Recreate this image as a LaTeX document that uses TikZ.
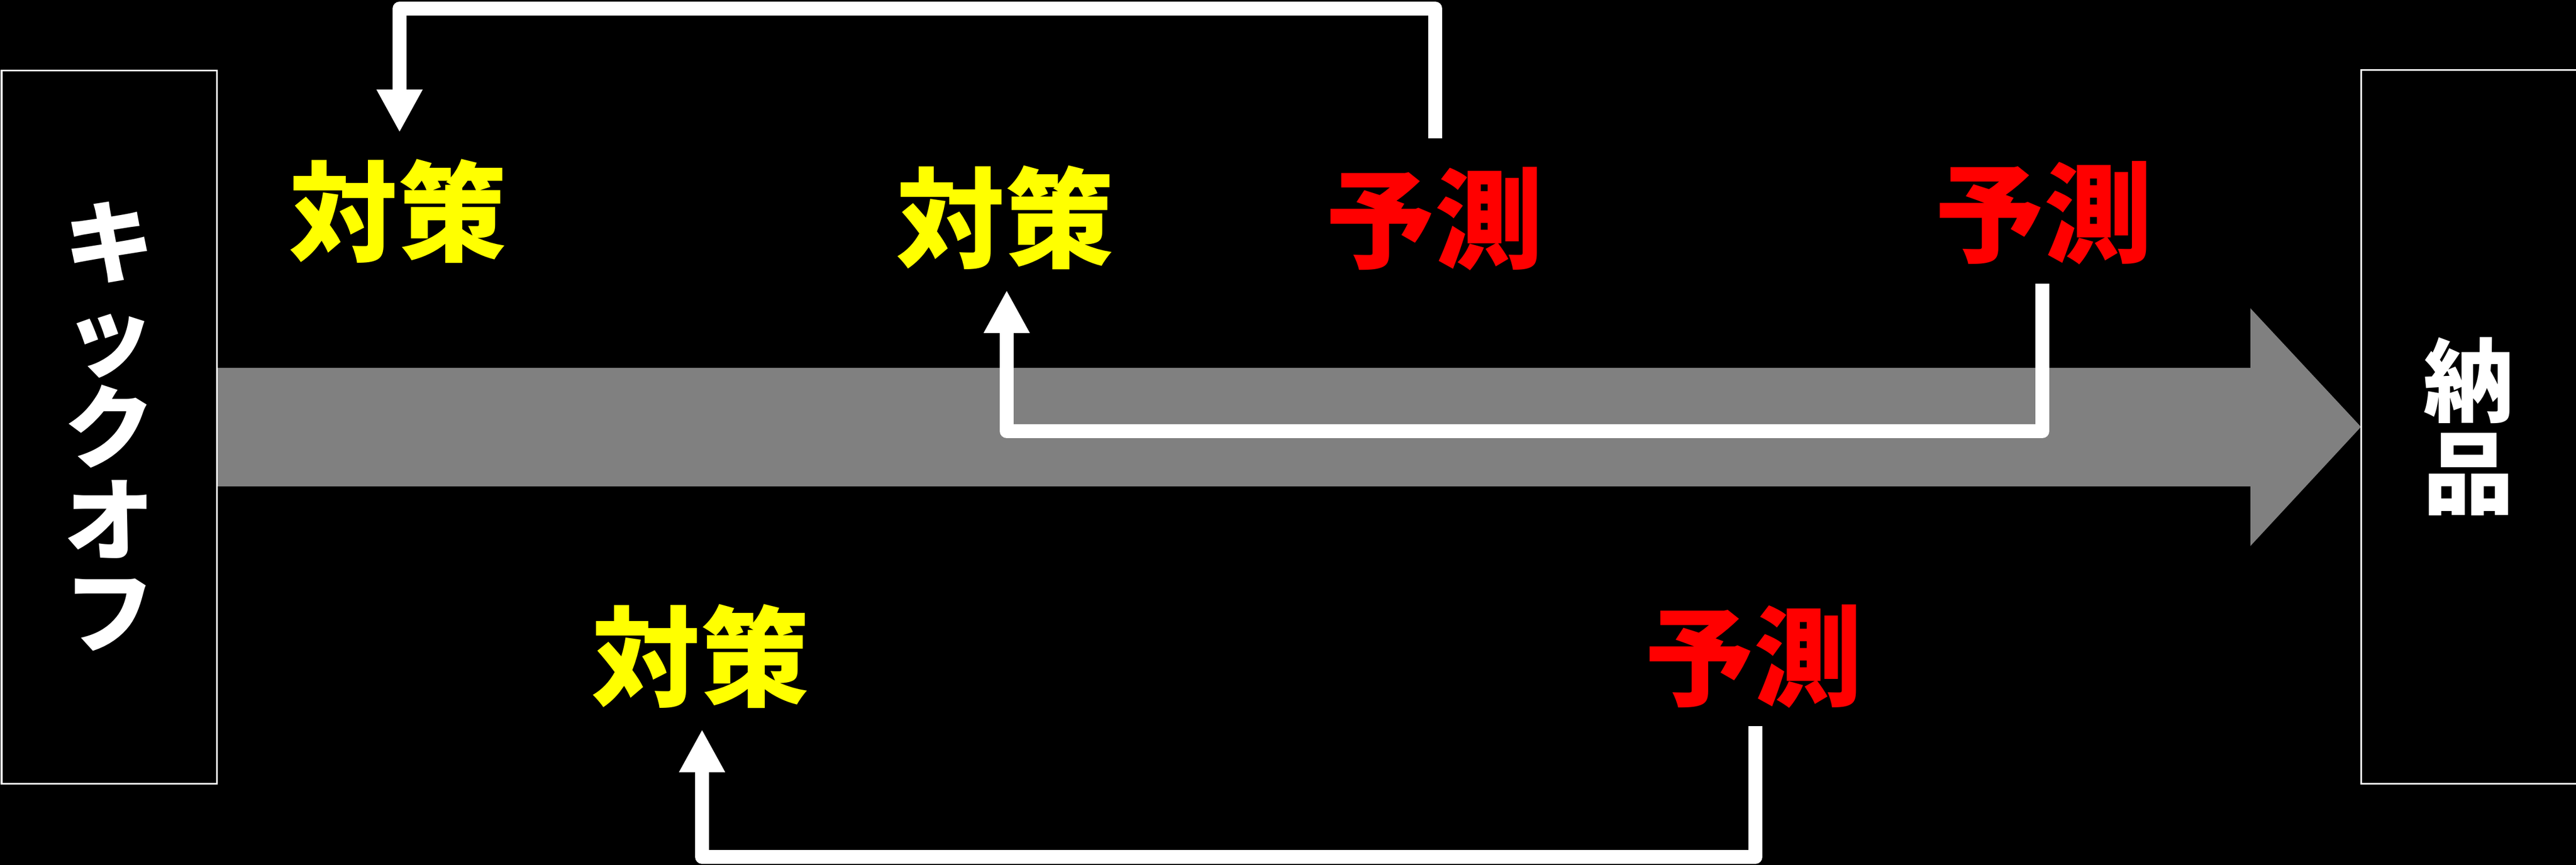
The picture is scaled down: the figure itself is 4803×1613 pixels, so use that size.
\documentclass[tikz,border=0pt]{standalone}
\usepackage{fontspec}
\newfontfamily\cjk{Noto Sans CJK JP}
\usetikzlibrary{arrows.meta}
\definecolor{flowgray}{HTML}{808080}
\definecolor{txtyellow}{HTML}{FFFF00}
\definecolor{txtred}{HTML}{FF0000}
\tikzset{
  bigword/.style={font=\cjk\bfseries\fontsize{57.5pt}{57.5pt}\selectfont, inner sep=0pt, anchor=base},
  taisaku/.style={bigword, text=txtyellow},
  yosoku/.style={bigword, text=txtred},
  endbox/.style={draw=white, line width=0.03cm, fill=black},
  endlabel/.style={font=\cjk\bfseries\fontsize{48pt}{49pt}\selectfont, text=white, align=center, inner sep=0pt},
  feedback/.style={draw=white, line width=0.26cm, line join=round,
    -{Triangle[length=0.8cm, width=0.8cm]}},
}
\begin{document}
\begin{tikzpicture}[x=0.01cm, y=-0.01cm]
\useasboundingbox[fill=black] (0,0) rectangle (4803,1613);
% main flow arrow
\fill[flowgray] (404,686) -- (4196,686) -- (4196,575) -- (4402,796) -- (4196,1018) -- (4196,907) -- (404,907) -- cycle;
% end boxes
\path[endbox] (3,132) rectangle (404,1461);
\path[endbox] (4402,131) rectangle (4815,1461);
\node[endlabel] (kickoff) at (204,795) {キ\\ッ\\ク\\オ\\フ};
\node[endlabel] (delivery) at (4603,795) {納\\品};
% words
\node[taisaku] (tA) at (742,472) {対策};
\node[taisaku] (tB) at (1874,484) {対策};
\node[yosoku]  (pA) at (2675,485) {予測};
\node[yosoku]  (pB) at (3811,474) {予測};
\node[taisaku] (tC) at (1306,1301) {対策};
\node[yosoku]  (pC) at (3270,1300) {予測};
% connector end points
\coordinate (pA-out) at (2676,258);
\coordinate (tA-in)  at (745,247);
\coordinate (laneA)  at (0,16);
\coordinate (pB-out) at (3808,529);
\coordinate (tB-in)  at (1877,541);
\coordinate (laneB)  at (0,804);
\coordinate (pC-out) at (3273,1354);
\coordinate (tC-in)  at (1309,1360);
\coordinate (laneC)  at (0,1598);
% feedback arrows
\draw[feedback] (pA-out) -- (pA-out |- laneA) -- (tA-in |- laneA) -- (tA-in);
\draw[feedback] (pB-out) -- (pB-out |- laneB) -- (tB-in |- laneB) -- (tB-in);
\draw[feedback] (pC-out) -- (pC-out |- laneC) -- (tC-in |- laneC) -- (tC-in);
\end{tikzpicture}
\end{document}
